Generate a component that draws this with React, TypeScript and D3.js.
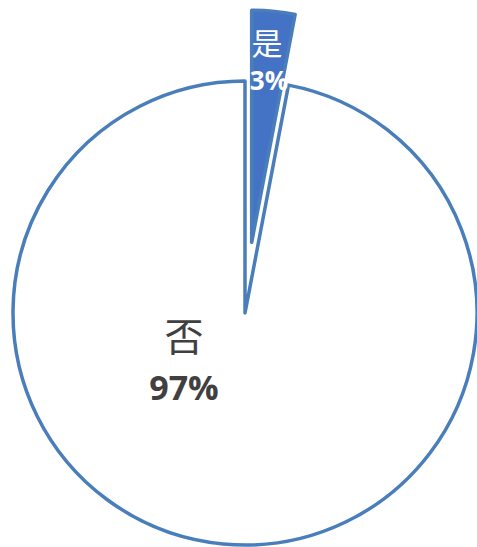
import React from "react";
import * as d3 from "d3";

const categories = ["是", "否"];
const values = [3, 97];
const labels = ["3%", "97%"];

export default function App() {
  const W = 477, H = 547;
  const cx = 245, cy = 313, R = 232;
  const explode = [71, 0];
  const pie = d3.pie<number>().sort(null).startAngle(0).endAngle(2 * Math.PI)(values);
  const arc = d3.arc<d3.PieArcDatum<number>>().innerRadius(0).outerRadius(R);
  const fills = ["#4472C4", "#FFFFFF"];
  const strokes = ["#4A7EBB", "#4A7EBB"];
  return (
    <svg width={W} height={H} style={{ position: "absolute", left: 0, top: 0, background: "#fff" }}>
      {pie.map((p, i) => {
        const mid = (p.startAngle + p.endAngle) / 2;
        const dx = explode[i] * Math.sin(mid);
        const dy = -explode[i] * Math.cos(mid);
        return (
          <path key={i} d={arc(p) as string} transform={`translate(${cx + dx},${cy + dy})`}
            fill={fills[i]} stroke={strokes[i]} strokeWidth={3.5} strokeLinejoin="round" />
        );
      })}
      <g fontFamily="'Open Sans', 'Liberation Sans', Arial, sans-serif" textAnchor="middle">
        <text x={267} y={41} fill="#fff" fontSize={31} dominantBaseline="central" fontFamily="'Noto Sans CJK SC', sans-serif">{categories[0]}</text>
        <text x={269} y={90} fill="#fff" fontSize={26} fontWeight="bold">{labels[0]}</text>
        <text x={184} y={334} fill="#404040" fontSize={39} dominantBaseline="central" fontFamily="'Noto Sans CJK SC', sans-serif">{categories[1]}</text>
        <text x={184} y={400} fill="#404040" fontSize={34} fontWeight="bold">{labels[1]}</text>
      </g>
    </svg>
  );
}
